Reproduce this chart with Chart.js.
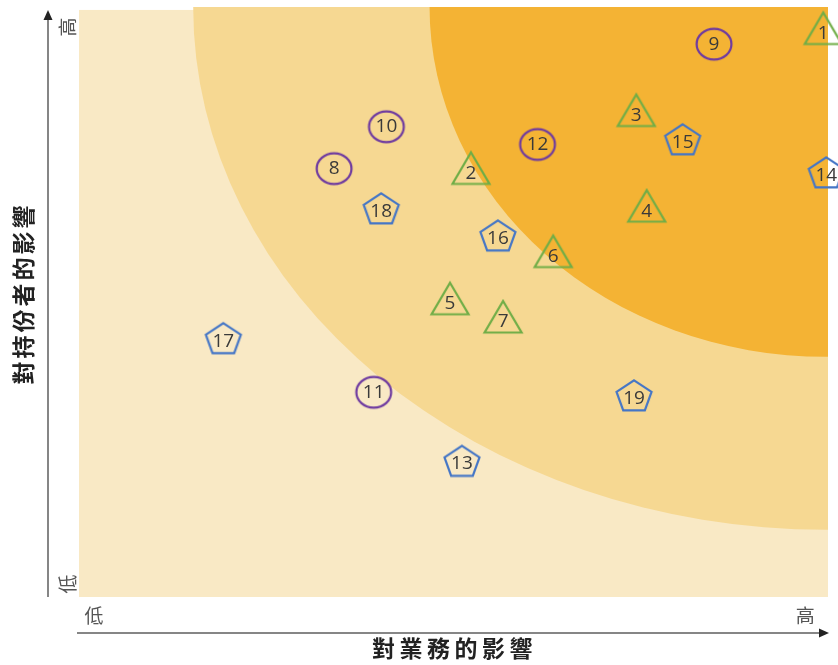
<!DOCTYPE html>
<html><head><meta charset="utf-8">
<script src="https://cdn.jsdelivr.net/npm/chart.js@4.4.1/dist/chart.umd.min.js"></script>
<style>html,body{margin:0;padding:0;background:#fff;overflow:hidden}</style>
</head><body>
<canvas id="c" width="838" height="665"></canvas>
<script>
// ---- data ----
const triangleIds = [1, 2, 3, 4, 5, 6, 7];
const triangleX   = [99.5, 52.4, 74.5, 75.9, 49.6, 63.4, 56.7];
const triangleY   = [95.5, 71.8, 81.6, 65.4, 49.7, 57.7, 46.6];
const circleIds   = [8, 9, 10, 11, 12];
const circleX     = [34.1, 84.9, 41.1, 39.4, 61.3];
const circleY     = [72.6, 93.7, 79.7, 34.7, 76.7];
const pentagonIds = [13, 14, 15, 16, 17, 18, 19];
const pentagonX   = [51.2, 99.9, 80.7, 56.0, 19.3, 40.4, 74.2];
const pentagonY   = [22.8, 71.7, 77.3, 61.0, 43.6, 65.6, 33.9];
const xTickValues = [2, 97.1];
const xTickLabels = ['低', '高'];
const yTickValues = [2.2, 96.6];
const yTickLabels = ['低', '高'];
const xTitle = '對業務的影響';
const yTitle = '對持份者的影響';
// zones: quarter-ellipses anchored at the top-right corner (radii in data units)
const zoneRadiusX = [84.6, 53.0];
const zoneRadiusY = [88.6, 59.3];

const COL_LIGHT = '#f9e9c5', COL_MED = '#f6d892', COL_DARK = '#f4b334';
const zoneColors = [COL_MED, COL_DARK];
const GREEN = '#70ad47', PURPLE = '#6e3aa0', BLUE = '#4576c6';
const CJK = '"Noto Sans CJK TC", "Noto Sans CJK SC", sans-serif';

function mk(w, h, fn) {
  const c = document.createElement('canvas'); c.width = w; c.height = h;
  const g = c.getContext('2d'); fn(g, w / 2, h / 2); return c;
}
const triImg = mk(46, 50, (g, cx, cy) => {
  g.strokeStyle = GREEN; g.lineWidth = 2.2; g.lineJoin = 'miter';
  g.beginPath(); g.moveTo(cx, cy - 21); g.lineTo(cx + 18.5, cy + 10.5); g.lineTo(cx - 18.5, cy + 10.5); g.closePath(); g.stroke();
});
const circImg = mk(42, 38, (g, cx, cy) => {
  g.strokeStyle = PURPLE; g.lineWidth = 2.2;
  g.beginPath(); g.ellipse(cx, cy, 17.4, 15.4, 0, 0, Math.PI * 2); g.stroke();
});
const pentImg = mk(42, 40, (g, cx, cy) => {
  g.strokeStyle = BLUE; g.lineWidth = 2.2; g.lineJoin = 'miter';
  g.beginPath();
  for (let k = 0; k < 5; k++) {
    const a = (-90 + 72 * k) * Math.PI / 180;
    const x = cx + 18.4 * Math.cos(a), y = cy + 16.6 * Math.sin(a);
    k ? g.lineTo(x, y) : g.moveTo(x, y);
  }
  g.closePath(); g.stroke();
});

function pts(ids, xs, ys) { return ids.map((id, i) => ({ x: xs[i], y: ys[i], id: id })); }

const bgPlugin = {
  id: 'bg',
  beforeDatasetsDraw(chart) {
    const { ctx, chartArea: a, scales: { x, y } } = chart;
    ctx.save();
    ctx.beginPath(); ctx.rect(a.left, a.top, a.right - a.left + 1, a.bottom - a.top); ctx.clip();
    ctx.fillStyle = COL_LIGHT;
    ctx.fillRect(a.left, y.getPixelForValue(99.5), a.right - a.left + 1, a.bottom - y.getPixelForValue(99.5));
    const cx = x.getPixelForValue(100), cy = y.getPixelForValue(100);
    zoneRadiusX.forEach((rxv, i) => {
      const rx = cx - x.getPixelForValue(100 - rxv);
      const ry = y.getPixelForValue(100 - zoneRadiusY[i]) - cy;
      ctx.fillStyle = zoneColors[i];
      ctx.beginPath(); ctx.ellipse(cx - 1, cy, rx, ry, 0, 0, Math.PI * 2); ctx.fill();
    });
    ctx.restore();
  }
};

const labelPlugin = {
  id: 'lbl',
  afterDatasetsDraw(chart) {
    const ctx = chart.ctx;
    ctx.save();
    ctx.fillStyle = '#3a3a3a';
    ctx.font = '19px "Open Sans", sans-serif';
    ctx.textAlign = 'center'; ctx.textBaseline = 'middle';
    chart.data.datasets.forEach((ds, di) => {
      const meta = chart.getDatasetMeta(di);
      meta.data.forEach((el, i) => {
        ctx.fillText(String(ds.data[i].id), el.x, el.y + ds.textDy);
      });
    });
    ctx.restore();
  }
};

const axisPlugin = {
  id: 'axes',
  afterDraw(chart) {
    const { ctx, chartArea: a, scales: { x, y } } = chart;
    const ax = a.left - 31, ay = a.bottom + 36;
    ctx.save();
    ctx.strokeStyle = '#5e5e5e'; ctx.lineWidth = 1.5;
    ctx.beginPath(); ctx.moveTo(ax, a.bottom); ctx.lineTo(ax, a.top + 10); ctx.stroke();
    ctx.beginPath(); ctx.moveTo(a.left - 2, ay); ctx.lineTo(a.right - 6, ay); ctx.stroke();
    ctx.fillStyle = '#222';
    ctx.beginPath(); ctx.moveTo(ax, a.top + 3); ctx.lineTo(ax - 4.5, a.top + 13); ctx.lineTo(ax + 4.5, a.top + 13); ctx.closePath(); ctx.fill();
    ctx.beginPath(); ctx.moveTo(a.right + 2, ay); ctx.lineTo(a.right - 8, ay - 4.5); ctx.lineTo(a.right - 8, ay + 4.5); ctx.closePath(); ctx.fill();

    // tick labels
    ctx.fillStyle = '#555';
    ctx.font = '19px ' + CJK;
    ctx.textAlign = 'center'; ctx.textBaseline = 'middle';
    xTickValues.forEach((v, i) => ctx.fillText(xTickLabels[i], x.getPixelForValue(v), a.bottom + 19));
    yTickValues.forEach((v, i) => {
      ctx.save(); ctx.translate(a.left - 11, y.getPixelForValue(v)); ctx.rotate(-Math.PI / 2);
      ctx.fillText(yTickLabels[i], 0, 0); ctx.restore();
    });

    // titles
    ctx.fillStyle = '#222';
    ctx.font = 'bold 23px ' + CJK;
    ctx.letterSpacing = '4.5px';
    ctx.fillText(xTitle, (a.left + a.right) / 2 + 1.5, a.bottom + 51);
    ctx.letterSpacing = '3px';
    ctx.save(); ctx.translate(23, 295); ctx.rotate(-Math.PI / 2);
    ctx.fillText(yTitle, 1.5, 0); ctx.restore();
    ctx.restore();
  }
};

new Chart(document.getElementById('c'), {
  type: 'scatter',
  data: {
    datasets: [
      { data: pts(triangleIds, triangleX, triangleY), pointStyle: triImg, pointRadius: 20, clip: false, textDy: 0 },
      { data: pts(circleIds, circleX, circleY), pointStyle: circImg, pointRadius: 20, clip: false, textDy: 0 },
      { data: pts(pentagonIds, pentagonX, pentagonY), pointStyle: pentImg, pointRadius: 20, clip: false, textDy: 1.5 }
    ]
  },
  options: {
    responsive: false, animation: false, events: [],
    layout: { autoPadding: false, padding: { left: 79, right: 11, top: 7, bottom: 68 } },
    scales: {
      x: { type: 'linear', min: 0, max: 100, display: false },
      y: { type: 'linear', min: 0, max: 100, display: false }
    },
    plugins: { legend: { display: false }, tooltip: { enabled: false }, title: { display: false } }
  },
  plugins: [bgPlugin, labelPlugin, axisPlugin]
});
</script>
</body></html>
